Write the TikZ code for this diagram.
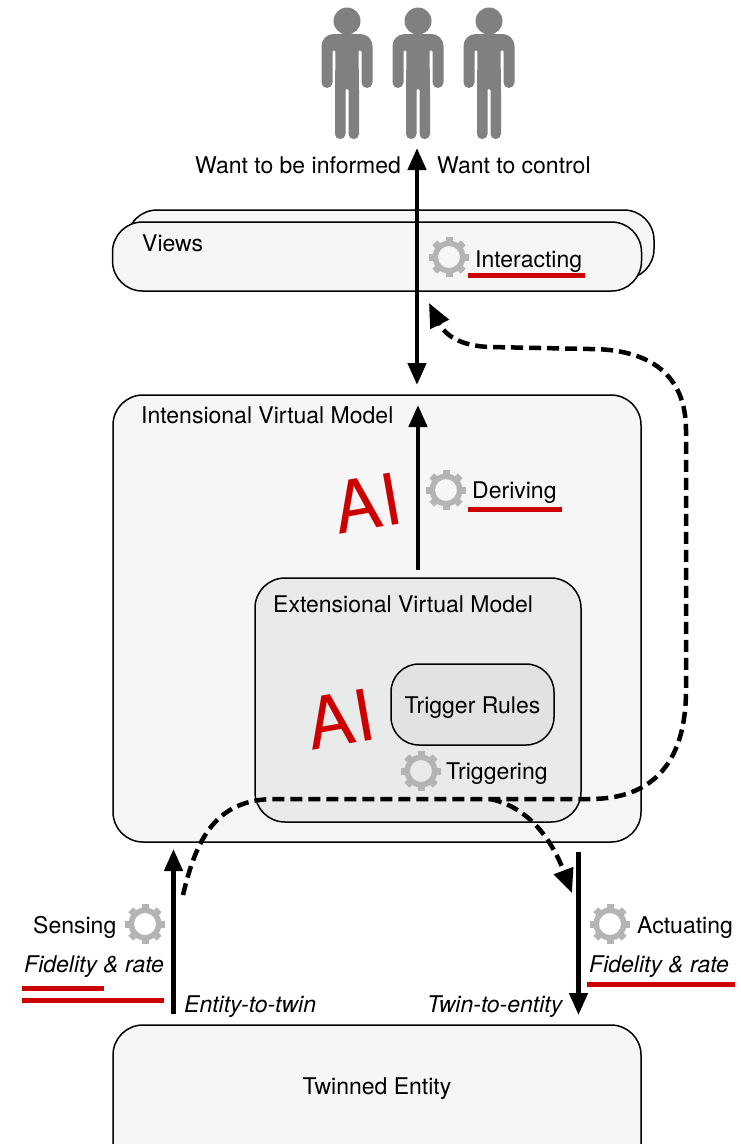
\documentclass[tikz,border=0pt]{standalone}
\usepackage{fontspec}
\setmainfont{TeX Gyre Heros}
\usetikzlibrary{arrows.meta}
\definecolor{boxgray}{HTML}{F6F6F6}
\definecolor{innergray}{HTML}{E9EAEA}
\definecolor{rulegray}{HTML}{E1E2E1}
\definecolor{aired}{HTML}{CC0000}
\definecolor{persongray}{HTML}{808080}
\definecolor{geargray}{HTML}{B4B4B4}
\tikzset{
  modelbox/.style={draw, line width=1.5pt, rounded corners=30pt, fill=boxgray, inner sep=0pt},
  txt/.style={anchor=base west, inner sep=0pt, font=\fontsize{23}{26}\selectfont},
  txtit/.style={txt, font=\fontsize{23}{26}\selectfont\itshape},
  bigai/.style={inner sep=0pt, text=aired, rotate=10, font=\fontsize{71}{74}\selectfont},
  redrule/.style={aired, line width=5pt},
  flow/.style={line width=4.5pt, -{Triangle[length=22pt,width=18pt]}},
  dashflow/.style={line width=4.5pt, dash pattern=on 12pt off 6pt, -{Triangle[length=24pt,width=20pt]}},
  person/.pic={
    \fill[persongray] (0,21) circle (13.5);
    \fill[persongray] (0,34) [rounded corners=12pt] -- (25.5,34) [rounded corners=5.5pt] -- (25.5,88) -- (14.5,88)
      [rounded corners=1.5pt] -- (14.5,50) -- (11.5,50) [rounded corners=0pt] -- (12,90) [rounded corners=5pt] -- (12,139) -- (1.5,139)
      [rounded corners=1pt] -- (1.5,89) -- (-1.5,89) [rounded corners=5pt] -- (-1.5,139) -- (-12,139)
      [rounded corners=0pt] -- (-12,90) [rounded corners=1.5pt] -- (-11.5,50) -- (-14.5,50) [rounded corners=5.5pt] -- (-14.5,88) -- (-25.5,88)
      [rounded corners=12pt] -- (-25.5,34) [rounded corners=0pt] -- cycle;
  },
  gearicon/.pic={
    \fill[geargray, even odd rule] (0,0) circle (16.5) (0,0) circle (11);
    \foreach \ang in {0,45,...,315}
      \fill[geargray, rotate=\ang] (-3.5,14.5) rectangle (3.5,20);
  }
}

\begin{document}
\begin{tikzpicture}[x=1pt,y=-1pt]
  \useasboundingbox (0,0) rectangle (740,1144);
  \clip (0,0) rectangle (740,1144);

  % People
  \pic at (347,0) {person};
  \pic at (418,0) {person};
  \pic at (489,0) {person};
  \node[txt] (informed) at (195,173) {Want to be informed};
  \node[txt] (control) at (437,173) {Want to control};

  % Views
  \node[modelbox, minimum width=527pt, minimum height=69pt] (viewsback) at (390.5,244.5) {};
  \node[modelbox, minimum width=529pt, minimum height=69pt] (views) at (377,256.5) {};
  \node[txt] (viewslabel) at (142,251) {Views};

  % Models
  \node[modelbox, minimum width=528pt, minimum height=447pt] (intensional) at (377,618.5) {};
  \node[txt] (intensionallabel) at (141,423) {Intensional Virtual Model};
  \node[modelbox, fill=innergray, minimum width=326pt, minimum height=244pt] (extensional) at (418,700) {};
  \node[txt] (extensionallabel) at (273,612) {Extensional Virtual Model};
  \node[modelbox, fill=rulegray, rounded corners=28pt, minimum width=163pt, minimum height=81pt] (rules) at (472.5,704.5) {};
  \node[txt, anchor=base] (ruleslabel) at (472.5,713) {Trigger Rules};

  % Entity
  \node[modelbox, minimum width=528pt, minimum height=160pt] (entity) at (377,1105) {};
  \node[txt, anchor=base] (entitylabel) at (377,1094) {Twinned Entity};

  % AI
  \node[bigai] (aitop) at (367,503) {AI};
  \node[bigai] (aibottom) at (340,719) {AI};

  % Gears
  \pic at (449,257) {gearicon};
  \pic at (446,490) {gearicon};
  \pic at (421,771) {gearicon};
  \pic at (145,924) {gearicon};
  \pic at (610,924) {gearicon};

  % Labels
  \node[txt] (interacting) at (475,267) {Interacting};
  \node[txt] (deriving) at (472,498) {Deriving};
  \node[txt] (triggering) at (446,779) {Triggering};
  \node[txt] (sensing) at (33,933) {Sensing};
  \node[txt] (actuating) at (637,933) {Actuating};
  \node[txtit] (fidelityleft) at (24,972) {Fidelity \& rate};
  \node[txtit] (fidelityright) at (589,972) {Fidelity \& rate};
  \node[txtit] (entitytwin) at (184,1012) {Entity-to-twin};
  \node[txtit] (twinentity) at (427,1012) {Twin-to-entity};

  % Red rules
  \draw[redrule] (468,275.5) -- (585,275.5);
  \draw[redrule] (468,509) -- (562,509);
  \draw[redrule] (22,988) -- (104,988);
  \draw[redrule] (22,1000.5) -- (164,1000.5);
  \draw[redrule] (587,984.5) -- (735,984.5);

  % Arrow ends
  \coordinate (peopletip) at (417,148);
  \coordinate (modeltip) at (417,385);
  \coordinate (derivefoot) at (418,570);
  \coordinate (derivetip) at (418,405);
  \coordinate (sensefoot) at (173.5,1014);
  \coordinate (sensetip) at (173.5,849);
  \coordinate (actfoot) at (578.5,852);
  \coordinate (acttip) at (578.5,1015);
  \coordinate (loopstart) at (183,895);
  \coordinate (looptip) at (429,303);
  \coordinate (forkstart) at (490,799);
  \coordinate (forktip) at (572,893);

  % Solid arrows
  \draw[flow, {Triangle[length=22pt,width=18pt]}-{Triangle[length=22pt,width=18pt]}] (peopletip) -- (modeltip);
  \draw[flow] (derivefoot) -- (derivetip);
  \draw[flow] (sensefoot) -- (sensetip);
  \draw[flow] (actfoot) -- (acttip);

  % Dashed feedback
  \draw[dashflow] (loopstart) .. controls (196,840) and (215,799) .. (275,799)
    -- (590,799) .. controls (655,799) and (686,760) .. (686,690) -- (686,430)
    .. controls (686,375) and (650,349) .. (590,349) -- (490,347)
    .. controls (460,346) and (445,335) .. (looptip);
  \draw[dashflow] (forkstart) .. controls (525,806) and (550,835) .. (forktip);
\end{tikzpicture}
\end{document}
